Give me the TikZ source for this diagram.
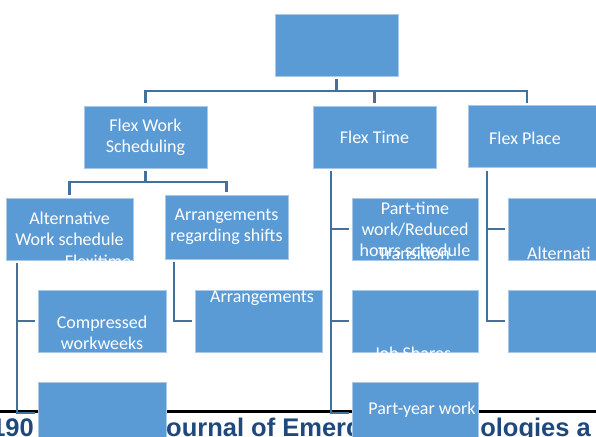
\documentclass[tikz,border=0pt]{standalone}
\usepackage{fontspec}
\setmainfont{Carlito}
\newfontfamily\footfont{Liberation Sans}
\definecolor{boxblue}{RGB}{91,155,213}
\definecolor{boxedge}{RGB}{170,200,232}
\definecolor{linkblue}{RGB}{65,113,156}
\definecolor{footblue}{RGB}{31,73,125}

\begin{document}
\begin{tikzpicture}[x=1pt,y=-1pt,
  box/.style={rectangle,fill=boxblue,draw=boxedge,line width=0.5pt,minimum width=123pt,minimum height=62pt,inner sep=0pt,outer sep=3pt,text=white,align=center,font=\fontsize{18}{21}\selectfont},
  txt/.style={text=white,inner sep=0pt,align=center,font=\fontsize{18}{21}\selectfont},
  conn/.style={draw=linkblue,line width=2.2pt}]
  \clip (0,0) rectangle (596,436);
  % journal footer, partly under the boxes
  \draw[line width=3pt] (0,411.5) -- (596,411.5);
  \node[anchor=base east,inner sep=0pt,text=footblue,font=\footfont\bfseries\fontsize{25.5}{30}\selectfont] (pgno) at (34,436) {190};
  \node[anchor=base west,inner sep=0pt,text=footblue,font=\footfont\bfseries\fontsize{25.5}{30}\selectfont] (journal) at (151.8,436) {Journal of Emerging Technologies a};

  \node[box] (top) at (336.5,45) {};
  \node[box] (fws) at (145.5,137) {Flex Work\\Scheduling};
  \node[box] (ftime) at (374.5,137) {Flex Time};
  \node[box,minimum width=140pt] (fplace) at (538,136.5) {};
  \node[txt] (fplacetxt) at (525,138) {Flex Place};

  \node[box,minimum width=127pt] (aws) at (69.5,229) {Alternative\\Work schedule};
  \node[box,minimum height=64pt] (ars) at (226.5,227) {Arrangements\\regarding shifts};
  \node[box,minimum width=126pt] (pt) at (415,229) {Part-time\\work/Reduced\\hours schedule};
  \node[box,minimum width=140pt] (alt) at (578,229) {};

  \node[box,minimum width=128pt] (cww) at (102,321) {};
  \node[txt] (cwwtxt) at (102,332.5) {Compressed\\workweeks};
  \node[box,minimum width=127pt] (arr) at (258.5,321) {};
  \node[txt,anchor=base] (arrtxt) at (262,302.5) {Arrangements};
  \node[box,minimum width=126pt] (js) at (415,321) {};
  \node[box,minimum width=140pt] (r2) at (578,321) {};

  \node[box,minimum width=128pt] (c1r3) at (102,413) {};
  \node[box,minimum width=126pt] (pyw) at (415,413) {};
  \node[txt] (pywtxt) at (422,410) {Part-year work};

  % texts running over the box edges
  \node[txt,anchor=base] (transtxt) at (414,259.5) {Transition};
  \node[txt,anchor=base west] (alttxt) at (527,259) {Alternati};
  \begin{scope}
    \clip (aws.south west) rectangle (aws.north east);
    \node[txt,anchor=base] (flextxt) at (98,267.6) {Flexitime};
  \end{scope}
  \begin{scope}
    \clip (js.south west) rectangle (js.north east);
    \node[txt,anchor=base] (jstxt) at (412.5,359.6) {Job Shares};
  \end{scope}

  % connectors
  \coordinate (bus) at (336.5,91);
  \draw[conn] (top.south) -- (bus);
  \draw[conn] (fws.north) |- (bus) -| (ftime.north);
  \draw[conn] (bus) -| ([xshift=-11pt]fplace.north);

  \coordinate (bus2) at (145.5,182);
  \draw[conn] (fws.south) -- (bus2);
  \draw[conn] (aws.north) |- (bus2) -| (ars.north);

  \draw[conn] ([xshift=14pt]aws.south west) |- (cww.west);
  \draw[conn] ([xshift=14pt]aws.south west) |- (c1r3.west);
  \draw[conn] ([xshift=12pt]ars.south west) |- (arr.west);
  \draw[conn] ([xshift=21pt]ftime.south west) |- (pt.west);
  \draw[conn] ([xshift=21pt]ftime.south west) |- (js.west);
  \draw[conn] ([xshift=21pt]ftime.south west) |- (pyw.west);
  \draw[conn] ([xshift=22pt]fplace.south west) |- (alt.west);
  \draw[conn] ([xshift=22pt]fplace.south west) |- (r2.west);
\end{tikzpicture}
\end{document}
